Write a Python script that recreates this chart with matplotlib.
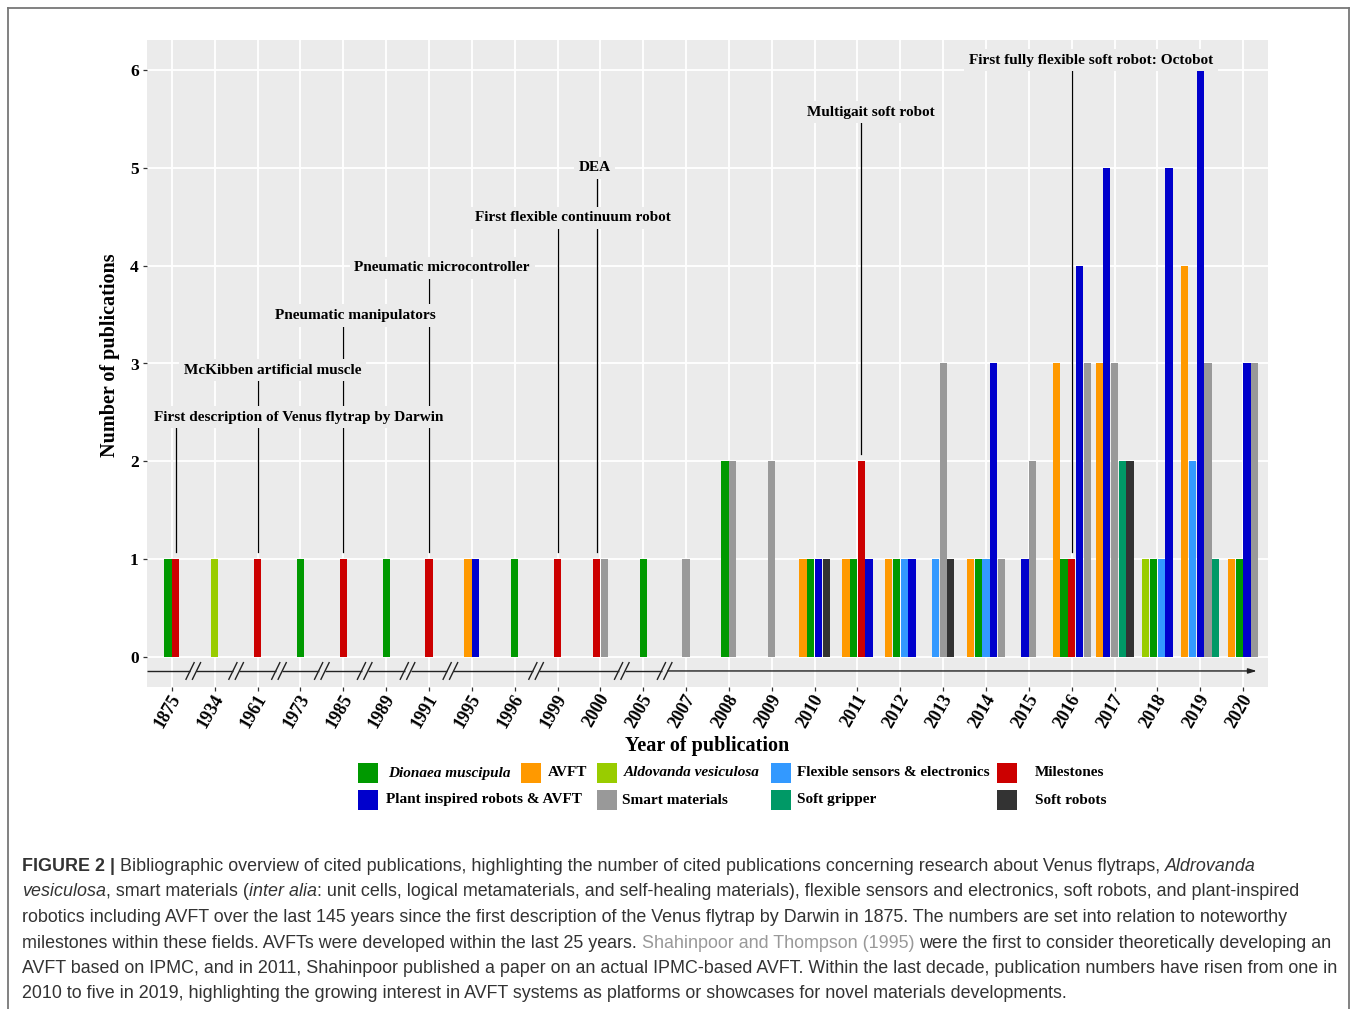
import matplotlib
matplotlib.use("Agg")
import matplotlib.pyplot as plt
from matplotlib.patches import Rectangle
from matplotlib.lines import Line2D
from matplotlib.transforms import ScaledTranslation

# ---------------- data ----------------
years = ['1875', '1934', '1961', '1973', '1985', '1989', '1991', '1995', '1996', '1999',
         '2000', '2005', '2007', '2008', '2009', '2010', '2011', '2012', '2013', '2014',
         '2015', '2016', '2017', '2018', '2019', '2020']

avft        = [0, 0, 0, 0, 0, 0, 0, 1, 0, 0, 0, 0, 0, 0, 0, 1, 1, 1, 0, 1, 0, 3, 3, 0, 4, 1]
aldovanda   = [0, 1, 0, 0, 0, 0, 0, 0, 0, 0, 0, 0, 0, 0, 0, 0, 0, 0, 0, 0, 0, 0, 0, 1, 0, 0]
dionaea     = [1, 0, 0, 1, 0, 1, 0, 0, 1, 0, 0, 1, 0, 2, 0, 1, 1, 1, 0, 1, 0, 1, 0, 1, 0, 1]
flexible    = [0, 0, 0, 0, 0, 0, 0, 0, 0, 0, 0, 0, 0, 0, 0, 0, 0, 1, 1, 1, 0, 0, 0, 1, 2, 0]
milestones  = [1, 0, 1, 0, 1, 0, 1, 0, 0, 1, 1, 0, 0, 0, 0, 0, 2, 0, 0, 0, 0, 1, 0, 0, 0, 0]
plant       = [0, 0, 0, 0, 0, 0, 0, 1, 0, 0, 0, 0, 0, 0, 0, 1, 1, 1, 0, 3, 1, 4, 5, 5, 6, 3]
smart       = [0, 0, 0, 0, 0, 0, 0, 0, 0, 0, 1, 0, 1, 2, 2, 0, 0, 0, 3, 1, 2, 3, 3, 0, 3, 3]
gripper     = [0, 0, 0, 0, 0, 0, 0, 0, 0, 0, 0, 0, 0, 0, 0, 0, 0, 0, 0, 0, 0, 0, 2, 0, 1, 0]
softrobots  = [0, 0, 0, 0, 0, 0, 0, 0, 0, 0, 0, 0, 0, 0, 0, 1, 0, 0, 1, 0, 0, 0, 2, 0, 0, 0]

# dodge order (alphabetical, as in the figure)
series_names = ["AVFT", "Aldovanda vesiculosa", "Dionaea muscipula",
                "Flexible sensors & electronics", "Milestones",
                "Plant inspired robots & AVFT", "Smart materials",
                "Soft gripper", "Soft robots"]
series_values = [avft, aldovanda, dionaea, flexible, milestones,
                 plant, smart, gripper, softrobots]
series_colors = ["#FF9900", "#99CC00", "#009900", "#3399FF", "#CC0000",
                 "#0000CC", "#999999", "#009966", "#333333"]

annot_labels = ["First description of Venus flytrap by Darwin",
                "McKibben artificial muscle",
                "Pneumatic manipulators",
                "Pneumatic microcontroller",
                "First flexible continuum robot",
                "DEA",
                "Multigait soft robot",
                "First fully flexible soft robot: Octobot"]
annot_years = ['1875', '1961', '1985', '1991', '1999', '2000', '2011', '2016']
# label placement (layout)
annot_pos = [(2.95, 2.45), (2.35, 2.93), (4.28, 3.49), (6.31, 3.98),
             (9.35, 4.49), (9.86, 5.00), (16.32, 5.57), (21.45, 6.10)]

legend_order = ["Dionaea muscipula", "AVFT", "Aldovanda vesiculosa",
                "Flexible sensors & electronics", "Milestones",
                "Plant inspired robots & AVFT", "Smart materials",
                "Soft gripper", "Soft robots"]
legend_italic = {"Dionaea muscipula", "Aldovanda vesiculosa"}

# ---------------- figure ----------------
W, H = 1357, 1009
fig = plt.figure(figsize=(W / 100, H / 100), dpi=100)
fig.patch.set_facecolor("white")

SERIF = "Liberation Serif"
SANS = "Liberation Sans"
PANEL = "#EBEBEB"

def fx(px):
    return px / W

def fy(py):
    return 1 - py / H

ax = fig.add_axes([fx(147), fy(687), fx(1268) - fx(147), fy(40) - fy(687)])
ax.set_facecolor(PANEL)
for s in ax.spines.values():
    s.set_visible(False)

ax.set_xlim(-0.58, 25.58)
ax.set_ylim(-0.307, 6.307)
ax.set_yticks(range(0, 7))
ax.set_xticks(range(len(years)))
ax.grid(True, color="white", linewidth=1.3, zorder=0)
ax.set_axisbelow(True)

# bars (dodged, fixed width)
step = 0.18
bw = 0.168
bar_x = {}
for i in range(len(years)):
    present = [k for k in range(len(series_names)) if series_values[k][i] > 0]
    n = len(present)
    for j, k in enumerate(present):
        x = i + (j - (n - 1) / 2) * step
        bar_x[(series_names[k], years[i])] = x
        ax.bar(x, series_values[k][i], width=bw, color=series_colors[k],
               linewidth=0, zorder=2)

# annotations
for lab, yr, (lx, ly) in zip(annot_labels, annot_years, annot_pos):
    xi = bar_x[("Milestones", yr)]
    top = milestones[years.index(yr)]
    ax.plot([xi, xi], [top + 0.07, ly], color="black", linewidth=0.9, zorder=3)
for lab, (lx, ly) in zip(annot_labels, annot_pos):
    ax.text(lx, ly, lab, ha="center", va="center", fontsize=11,
            fontweight="bold", family=SERIF, zorder=4,
            bbox=dict(boxstyle="square,pad=0.3", facecolor=PANEL,
                      edgecolor="none"))

# broken time axis line
y0 = -0.143
breaks = [i + 0.5 for i in range(len(years) - 1)
          if int(years[i + 1]) - int(years[i]) > 1]
gap = 0.07
segs = []
cur = -0.58
for b in breaks:
    segs.append((cur, b - gap))
    cur = b + gap
for a, b in segs:
    ax.plot([a, b], [y0, y0], color="#222222", linewidth=1.0, zorder=3,
            solid_capstyle="butt")
ax.annotate("", xy=(25.32, y0), xytext=(cur, y0),
            arrowprops=dict(arrowstyle="-|>,head_length=0.5,head_width=0.15",
                            color="#222222", linewidth=1.0, shrinkA=0, shrinkB=0),
            zorder=3)
for b in breaks:
    for off in (-0.075, 0.075):
        ax.plot([b + off - 0.095, b + off + 0.095], [y0 - 0.085, y0 + 0.085],
                color="#222222", linewidth=1.0, zorder=3)

# ticks
ax.tick_params(axis="both", length=3, width=0.9, color="#333333")
ax.set_yticklabels([str(v) for v in range(0, 7)], fontsize=12.5,
                   fontweight="bold", family=SERIF)
ax.set_xticklabels(years, rotation=60, ha="right", va="center",
                   rotation_mode="anchor", fontsize=13, fontweight="bold",
                   family=SERIF)
ax.tick_params(axis="x", pad=3)
ax.tick_params(axis="y", pad=3)
shift = ScaledTranslation(5 / 100, 0, fig.dpi_scale_trans)
for lab in ax.get_xticklabels():
    lab.set_transform(lab.get_transform() + shift)

fig.text(fx(707), fy(746), "Year of publication", ha="center", va="center",
         fontsize=14.5, fontweight="bold", family=SERIF)
fig.text(fx(110), fy(355), "Number of publications", ha="center", va="center",
         rotation=90, fontsize=14.5, fontweight="bold", family=SERIF)

# legend (manual layout)
leg_layout = {
    "Dionaea muscipula": (358, 773, 388),
    "AVFT": (521, 773, 548),
    "Aldovanda vesiculosa": (597, 773, 624),
    "Flexible sensors & electronics": (771, 773, 797),
    "Milestones": (997, 773, 1035),
    "Plant inspired robots & AVFT": (358, 800, 386),
    "Smart materials": (597, 800, 622),
    "Soft gripper": (771, 800, 797),
    "Soft robots": (997, 800, 1035),
}
for name in legend_order:
    px, py, tx = leg_layout[name]
    col = series_colors[series_names.index(name)]
    fig.patches.append(Rectangle((fx(px), fy(py + 10)), 20 / W, 20 / H,
                                 transform=fig.transFigure, facecolor=col,
                                 edgecolor="none"))
    fig.text(fx(tx), fy(py), name, ha="left", va="center", fontsize=11,
             fontweight="bold", family=SERIF,
             fontstyle="italic" if name in legend_italic else "normal")

# frame
frame_col = "#777777"
fig.add_artist(Line2D([fx(8), fx(8)], [fy(8), 0], color=frame_col, linewidth=1.3))
fig.add_artist(Line2D([fx(1349), fx(1349)], [fy(8), 0], color=frame_col, linewidth=1.3))
fig.add_artist(Line2D([fx(8), fx(1349)], [fy(8), fy(8)], color=frame_col, linewidth=1.3))

# caption
TXT = "#333333"
LINK = "#999999"
caption = [
    [("FIGURE 2 |", "b", TXT),
     (" Bibliographic overview of cited publications, highlighting the number of cited publications concerning research about Venus flytraps, ", "n", TXT),
     ("Aldrovanda", "i", TXT)],
    [("vesiculosa", "i", TXT), (", smart materials (", "n", TXT), ("inter alia", "i", TXT),
     (": unit cells, logical metamaterials, and self-healing materials), flexible sensors and electronics, soft robots, and plant-inspired", "n", TXT)],
    [("robotics including AVFT over the last 145 years since the first description of the Venus flytrap by Darwin in 1875. The numbers are set into relation to noteworthy", "n", TXT)],
    [("milestones within these fields. AVFTs were developed within the last 25 years. ", "n", TXT),
     ("Shahinpoor and Thompson (1995)", "n", LINK),
     (" were the first to consider theoretically developing an", "n", TXT)],
    [("AVFT based on IPMC, and in 2011, Shahinpoor published a paper on an actual IPMC-based AVFT. Within the last decade, publication numbers have risen from one in", "n", TXT)],
    [("2010 to five in 2019, highlighting the growing interest in AVFT systems as platforms or showcases for novel materials developments.", "n", TXT)],
]
baselines = [871, 896.5, 922, 947.5, 973, 998.5]

fig.canvas.draw()
renderer = fig.canvas.get_renderer()

def text_w(s, size, style):
    t = fig.text(0, 0, s, fontsize=size, family=SANS,
                 fontweight="bold" if style == "b" else "normal",
                 fontstyle="italic" if style == "i" else "normal")
    w = t.get_window_extent(renderer).width
    t.remove()
    return w

# fit size so line 5 spans the measured width
base = 12.0
w5 = text_w(caption[4][0][0], base, "n")
size = base * (1320.0 / w5)

def space_w(style):
    return text_w("x x", size, style) - text_w("xx", size, style)

for segs_, by in zip(caption, baselines):
    x = 22.0
    for s, style, col in segs_:
        lead = len(s) - len(s.lstrip(" "))
        trail = len(s) - len(s.rstrip(" "))
        core = s.strip(" ")
        sw = space_w(style)
        x += lead * sw
        fig.text(fx(x), fy(by), core, ha="left", va="baseline", fontsize=size,
                 family=SANS, color=col,
                 fontweight="bold" if style == "b" else "normal",
                 fontstyle="italic" if style == "i" else "normal")
        x += text_w(core, size, style) + trail * sw

fig.savefig("out.png", dpi=100, facecolor="white")
